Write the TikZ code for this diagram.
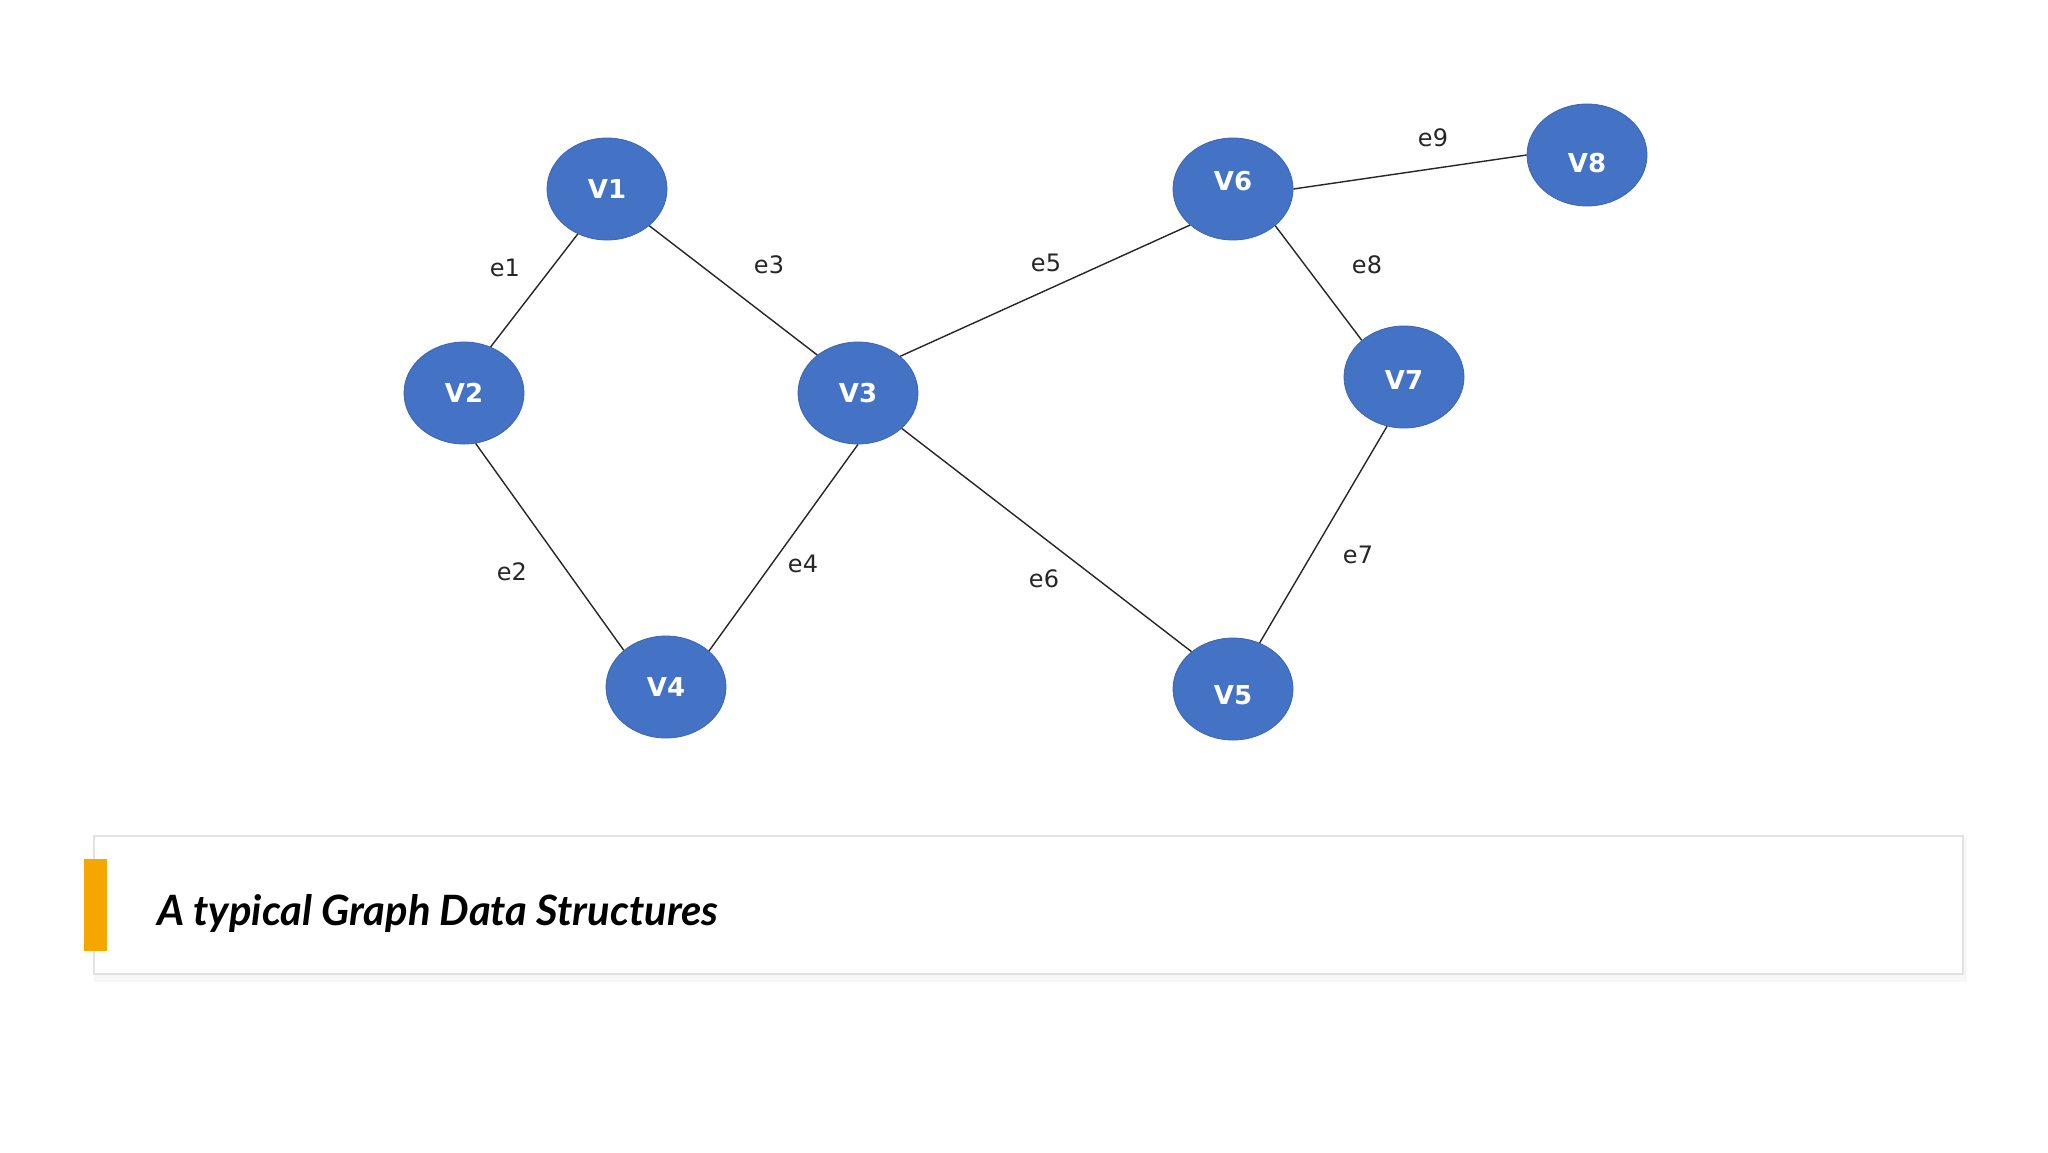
\documentclass[tikz,border=0pt]{standalone}
\usepackage{fontspec}
\setmainfont{Lato}
\newfontfamily\labfont{DejaVu Sans}
\usetikzlibrary{shapes.geometric}
\definecolor{nodeblue}{HTML}{4472C4}
\definecolor{nodeedge}{HTML}{3B65B2}
\definecolor{barorange}{HTML}{F5A700}
\definecolor{boxline}{HTML}{E2E2E2}
\tikzset{
  vert/.style={ellipse, fill=nodeblue, draw=nodeedge, line width=0.8pt,
    minimum width=120pt, minimum height=102pt, inner sep=0pt, text=white,
    text height=19pt, text depth=0pt,
    font=\labfont\bfseries\fontsize{26}{26}\selectfont},
  edgeline/.style={line width=1.4pt, draw=black!85},
  elab/.style={font=\labfont\fontsize{24}{24}\selectfont, text=black!85, inner sep=0pt}
}
\begin{document}
\begin{tikzpicture}[x=1pt,y=-1pt]
\useasboundingbox (0,0) rectangle (2048,1152);
\fill[white] (0,0) rectangle (2048,1152);
% graph
\node[vert] (v1) at (607,189) {V1};
\node[vert] (v2) at (464,393) {V2};
\node[vert] (v3) at (858,393) {V3};
\node[vert] (v4) at (666,687) {V4};
\node[vert] (v5) at (1233,689) {\raisebox{-6pt}{V5}};
\node[vert] (v6) at (1233,189) {\raisebox{8pt}{V6}};
\node[vert] (v7) at (1404,377) {\raisebox{-3pt}{V7}};
\node[vert] (v8) at (1587,155) {\raisebox{-8pt}{V8}};
\draw[edgeline] (v1.237) -- (v2.60);
\draw[edgeline] (v2.-77) -- (v4.139);
\draw[edgeline] (v1.-41) -- (v3.137);
\draw[edgeline] (v3.-90) -- (v4.40);
\draw[edgeline] (v3.41) -- (v6.220);
\draw[edgeline] (v3.-39) -- (v5.138);
\draw[edgeline] (v5.60) -- (v7.-109);
\draw[edgeline] (v6.-41) -- (v7.139);
\draw[edgeline] (v6.0) -- (v8.180);
\node[elab] (e1) at (505,268) {e1};
\node[elab] (e2) at (512,572) {e2};
\node[elab] (e3) at (769,265) {e3};
\node[elab] (e4) at (803,564) {e4};
\node[elab] (e5) at (1046,263) {e5};
\node[elab] (e6) at (1044,579) {e6};
\node[elab] (e7) at (1358,555) {e7};
\node[elab] (e8) at (1367,265) {e8};
\node[elab] (e9) at (1433,138) {e9};
% caption box
\fill[black!6] (96,840) rectangle (1965,979);
\fill[black!3] (94,838) rectangle (1967,982);
\draw[boxline, fill=white, line width=1.2pt] (94,836) rectangle (1963,974);
\fill[barorange] (84,859) rectangle (107,951);
\node[anchor=base west, inner sep=0pt, font=\bfseries\itshape\fontsize{41.8}{42}\selectfont] (cap) at (157,925) {A typical Graph Data Structures};
\end{tikzpicture}
\end{document}
